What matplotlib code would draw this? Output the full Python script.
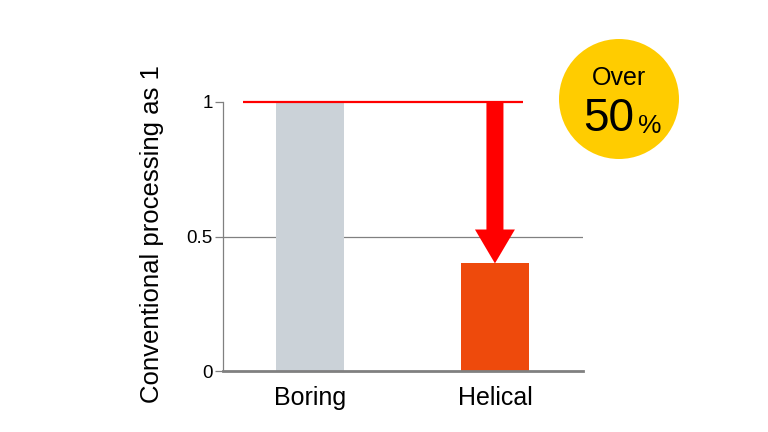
import matplotlib
matplotlib.use("Agg")
import matplotlib.pyplot as plt
from matplotlib.patches import Ellipse, FancyArrow

plt.rcParams['font.family'] = ['Liberation Sans', 'DejaVu Sans']

categories = ["Boring", "Helical"]
values = [1.0, 0.4]
bar_colors = ["#cbd2d8", "#ee4a0c"]
yticks = [0, 0.5, 1]
ytick_labels = ["0", "0.5", "1"]
baseline = 1.0
badge_top = "Over"
badge_num = "50"
badge_pct = "%"

fig = plt.figure(figsize=(7.68, 4.32), dpi=100)
ax = fig.add_axes([223/768, 61/432, 360/768, 269/432])

x = list(range(len(categories)))
ax.bar(x, values, width=0.37, color=bar_colors, zorder=2)
ax.set_xlim(-0.47, 1.476)
ax.set_ylim(0, 1)

ax.axhline(0.5, color="#808080", lw=0.9, zorder=1)
ax.plot([-0.362, 1.151], [baseline, baseline], color="#ff0000", lw=1.6,
        clip_on=False, zorder=3, solid_capstyle="butt")

# arrow from baseline down to the helical bar top
arr = FancyArrow(x[1], baseline, 0, values[1] - baseline, width=0.092,
                 head_width=0.216, head_length=0.126, length_includes_head=True,
                 color="#ff0000", lw=0, clip_on=False, zorder=4)
ax.add_patch(arr)

ax.set_xticks(x)
ax.set_xticklabels(categories, fontsize=18)
ax.set_yticks(yticks)
ax.set_yticklabels(ytick_labels, fontsize=13.5)
ax.tick_params(axis="x", length=0, pad=11)
ax.tick_params(axis="y", length=6, width=0.9, color="#808080", pad=1.5)
for s in ["top", "right"]:
    ax.spines[s].set_visible(False)
ax.spines["left"].set_color("#808080")
ax.spines["left"].set_linewidth(0.9)
ax.spines["bottom"].set_color("#808080")
ax.spines["bottom"].set_linewidth(2)
ax.set_ylabel("Conventional processing as 1", fontsize=18.5)
ax.yaxis.set_label_coords(-0.165, 0.509)

# badge
fig.patches.append(Ellipse((619/768, 1 - 99/432), 120/768, 120/432,
                           transform=fig.transFigure, facecolor="#ffcc00",
                           edgecolor="none"))
fig.text(619/768, 1 - 78/432, badge_top, ha="center", va="center", fontsize=18)
fig.text(609/768, 1 - 119/432, badge_num, ha="center", va="center", fontsize=33)
fig.text(650/768, 1 - 126/432, badge_pct, ha="center", va="center", fontsize=19)

fig.savefig("out.png", dpi=100)
